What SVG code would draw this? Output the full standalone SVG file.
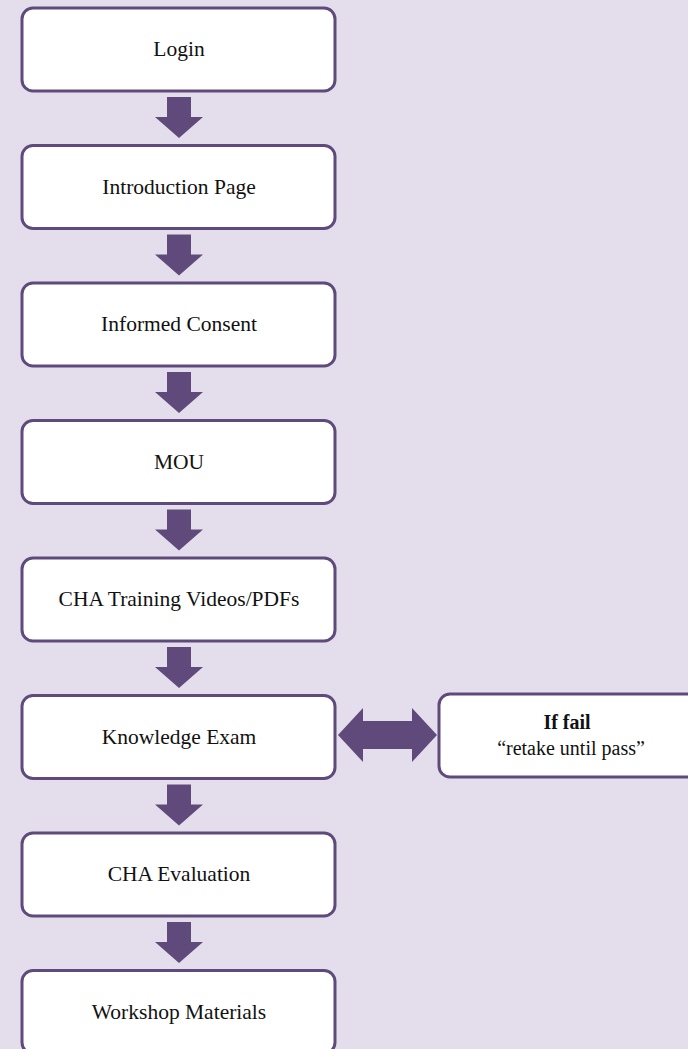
<svg xmlns="http://www.w3.org/2000/svg" width="688" height="1049" viewBox="0 0 688 1049">
<defs>
<style>
.box{fill:#ffffff;stroke:#5f4a7c;stroke-width:3}
.arr{fill:#604a7b}
text{font-family:'Liberation Serif','Times New Roman','DejaVu Serif',serif;font-size:21.5px;fill:#111;text-anchor:middle}
.s{font-size:20px}
</style>
<path id="down" d="M-12,0 H12 V20 H24 L0,41 L-24,20 H-12 Z"/>
</defs>
<rect width="688" height="1049" fill="#e4deec"/>
<g id="connectors" class="arr">
<use href="#down" x="179" y="97"/>
<use href="#down" x="179" y="234.5"/>
<use href="#down" x="179" y="372"/>
<use href="#down" x="179" y="509.5"/>
<use href="#down" x="179" y="647"/>
<use href="#down" x="179" y="784.5"/>
<use href="#down" x="179" y="922"/>
<path d="M338,735 L363,708 V721 H412 V708 L437,735 L412,762 V749 H363 V762 Z"/>
</g>
<g id="n1"><rect class="box" x="22" y="8" width="313" height="83" rx="11"/><text x="179" y="56">Login</text></g>
<g id="n2"><rect class="box" x="22" y="145.5" width="313" height="83" rx="11"/><text x="179" y="193.5">Introduction Page</text></g>
<g id="n3"><rect class="box" x="22" y="283" width="313" height="83" rx="11"/><text x="179" y="331">Informed Consent</text></g>
<g id="n4"><rect class="box" x="22" y="420.5" width="313" height="83" rx="11"/><text x="179" y="468.5">MOU</text></g>
<g id="n5"><rect class="box" x="22" y="558" width="313" height="83" rx="11"/><text x="179" y="606">CHA Training Videos/PDFs</text></g>
<g id="n6"><rect class="box" x="22" y="695.5" width="313" height="83" rx="11"/><text x="179" y="743.5">Knowledge Exam</text></g>
<g id="n7"><rect class="box" x="22" y="833" width="313" height="83" rx="11"/><text x="179" y="881">CHA Evaluation</text></g>
<g id="n8"><rect class="box" x="22" y="970.5" width="313" height="83" rx="11"/><text x="179" y="1018.5">Workshop Materials</text></g>
<g id="n9"><rect class="box" x="439" y="694" width="260" height="83" rx="11"/><text class="s" x="567" y="729" font-weight="bold">If fail</text><text class="s" x="571" y="755">“retake until pass”</text></g>
</svg>
